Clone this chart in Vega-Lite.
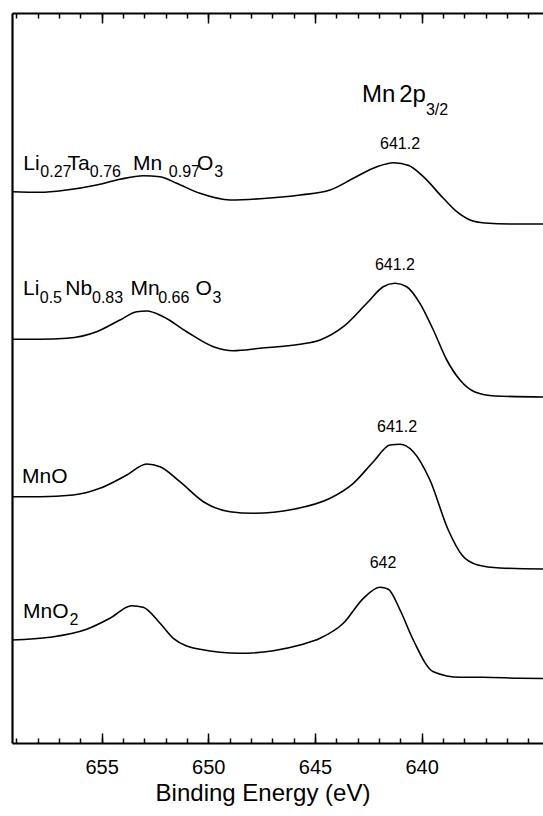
{
 "$schema": "https://vega.github.io/schema/vega-lite/v6.json",
 "width": 531, "height": 730,
 "autosize": {"type": "none"},
 "padding": {"left": 12, "top": 13, "right": 0, "bottom": 73},
 "background": "white",
 "config": {"view": {"stroke": null}, "font": "Liberation Sans",
  "axis": {"grid": false, "domainColor": "black", "tickColor": "black", "labelColor": "black", "titleColor": "black", "labelFont": "Liberation Sans", "titleFont": "Liberation Sans"},
  "text": {"font": "Liberation Sans", "color": "black"}},
 "datasets": {
  "curves": [
   {"sample":"Li0.27Ta0.76Mn0.97O3","E":659.2,"I":551.3},
   {"sample":"Li0.27Ta0.76Mn0.97O3","E":657.89,"I":550.7},
   {"sample":"Li0.27Ta0.76Mn0.97O3","E":656.64,"I":553},
   {"sample":"Li0.27Ta0.76Mn0.97O3","E":655.23,"I":558},
   {"sample":"Li0.27Ta0.76Mn0.97O3","E":654.14,"I":563.7},
   {"sample":"Li0.27Ta0.76Mn0.97O3","E":653.05,"I":567.3},
   {"sample":"Li0.27Ta0.76Mn0.97O3","E":652.26,"I":566.3},
   {"sample":"Li0.27Ta0.76Mn0.97O3","E":651.48,"I":559.7},
   {"sample":"Li0.27Ta0.76Mn0.97O3","E":650.39,"I":549.7},
   {"sample":"Li0.27Ta0.76Mn0.97O3","E":648.98,"I":543},
   {"sample":"Li0.27Ta0.76Mn0.97O3","E":647.26,"I":544.7},
   {"sample":"Li0.27Ta0.76Mn0.97O3","E":645.7,"I":548},
   {"sample":"Li0.27Ta0.76Mn0.97O3","E":644.29,"I":553},
   {"sample":"Li0.27Ta0.76Mn0.97O3","E":643.2,"I":564.7},
   {"sample":"Li0.27Ta0.76Mn0.97O3","E":642.1,"I":576.3},
   {"sample":"Li0.27Ta0.76Mn0.97O3","E":641.3,"I":580.3},
   {"sample":"Li0.27Ta0.76Mn0.97O3","E":640.6,"I":577.5},
   {"sample":"Li0.27Ta0.76Mn0.97O3","E":639.92,"I":566.3},
   {"sample":"Li0.27Ta0.76Mn0.97O3","E":638.98,"I":544.7},
   {"sample":"Li0.27Ta0.76Mn0.97O3","E":638.35,"I":531.3},
   {"sample":"Li0.27Ta0.76Mn0.97O3","E":637.73,"I":523},
   {"sample":"Li0.27Ta0.76Mn0.97O3","E":637.03,"I":520},
   {"sample":"Li0.27Ta0.76Mn0.97O3","E":635.86,"I":519},
   {"sample":"Li0.27Ta0.76Mn0.97O3","E":634.31,"I":519},
   {"sample":"Li0.5Nb0.83Mn0.66O3","E":659.2,"I":403.7},
   {"sample":"Li0.5Nb0.83Mn0.66O3","E":657.89,"I":403.7},
   {"sample":"Li0.5Nb0.83Mn0.66O3","E":656.64,"I":404.7},
   {"sample":"Li0.5Nb0.83Mn0.66O3","E":655.23,"I":411.3},
   {"sample":"Li0.5Nb0.83Mn0.66O3","E":654.14,"I":423},
   {"sample":"Li0.5Nb0.83Mn0.66O3","E":653.35,"I":431.3},
   {"sample":"Li0.5Nb0.83Mn0.66O3","E":652.89,"I":432},
   {"sample":"Li0.5Nb0.83Mn0.66O3","E":652.11,"I":426.3},
   {"sample":"Li0.5Nb0.83Mn0.66O3","E":651.01,"I":411.3},
   {"sample":"Li0.5Nb0.83Mn0.66O3","E":649.76,"I":396.3},
   {"sample":"Li0.5Nb0.83Mn0.66O3","E":648.83,"I":392.3},
   {"sample":"Li0.5Nb0.83Mn0.66O3","E":647.57,"I":394.7},
   {"sample":"Li0.5Nb0.83Mn0.66O3","E":645.7,"I":398.7},
   {"sample":"Li0.5Nb0.83Mn0.66O3","E":644.76,"I":403},
   {"sample":"Li0.5Nb0.83Mn0.66O3","E":643.67,"I":416.3},
   {"sample":"Li0.5Nb0.83Mn0.66O3","E":642.57,"I":439.7},
   {"sample":"Li0.5Nb0.83Mn0.66O3","E":641.8,"I":456.3},
   {"sample":"Li0.5Nb0.83Mn0.66O3","E":641.25,"I":459.7},
   {"sample":"Li0.5Nb0.83Mn0.66O3","E":640.7,"I":456.3},
   {"sample":"Li0.5Nb0.83Mn0.66O3","E":640.08,"I":439.7},
   {"sample":"Li0.5Nb0.83Mn0.66O3","E":639.45,"I":413},
   {"sample":"Li0.5Nb0.83Mn0.66O3","E":638.82,"I":383},
   {"sample":"Li0.5Nb0.83Mn0.66O3","E":638.2,"I":363},
   {"sample":"Li0.5Nb0.83Mn0.66O3","E":637.5,"I":351},
   {"sample":"Li0.5Nb0.83Mn0.66O3","E":636.56,"I":347},
   {"sample":"Li0.5Nb0.83Mn0.66O3","E":634.31,"I":346},
   {"sample":"MnO","E":659.2,"I":246.3},
   {"sample":"MnO","E":657.89,"I":246.3},
   {"sample":"MnO","E":656.33,"I":248},
   {"sample":"MnO","E":655.08,"I":254.7},
   {"sample":"MnO","E":653.82,"I":268},
   {"sample":"MnO","E":652.89,"I":279},
   {"sample":"MnO","E":652.26,"I":276.3},
   {"sample":"MnO","E":651.33,"I":261.3},
   {"sample":"MnO","E":650.23,"I":241.3},
   {"sample":"MnO","E":648.98,"I":231.3},
   {"sample":"MnO","E":647.89,"I":229.7},
   {"sample":"MnO","E":646.01,"I":233.7},
   {"sample":"MnO","E":644.29,"I":244.7},
   {"sample":"MnO","E":643.2,"I":259.7},
   {"sample":"MnO","E":642.26,"I":281.3},
   {"sample":"MnO","E":641.48,"I":298},
   {"sample":"MnO","E":641.01,"I":298.7},
   {"sample":"MnO","E":640.39,"I":291.3},
   {"sample":"MnO","E":639.61,"I":263},
   {"sample":"MnO","E":638.75,"I":213},
   {"sample":"MnO","E":638.11,"I":188},
   {"sample":"MnO","E":637.36,"I":178},
   {"sample":"MnO","E":636.33,"I":175},
   {"sample":"MnO","E":634.31,"I":174},
   {"sample":"MnO2","E":659.2,"I":103},
   {"sample":"MnO2","E":657.42,"I":105.7},
   {"sample":"MnO2","E":655.7,"I":113.7},
   {"sample":"MnO2","E":654.61,"I":124.7},
   {"sample":"MnO2","E":653.59,"I":137.3},
   {"sample":"MnO2","E":653.05,"I":135.7},
   {"sample":"MnO2","E":652.26,"I":119.7},
   {"sample":"MnO2","E":651.64,"I":104.7},
   {"sample":"MnO2","E":650.39,"I":93.7},
   {"sample":"MnO2","E":648.51,"I":89.7},
   {"sample":"MnO2","E":646.95,"I":92.3},
   {"sample":"MnO2","E":645.7,"I":98},
   {"sample":"MnO2","E":644.76,"I":104.7},
   {"sample":"MnO2","E":643.67,"I":119.7},
   {"sample":"MnO2","E":642.73,"I":144.7},
   {"sample":"MnO2","E":641.95,"I":155.7},
   {"sample":"MnO2","E":641.56,"I":153.7},
   {"sample":"MnO2","E":641.01,"I":133},
   {"sample":"MnO2","E":640.39,"I":103},
   {"sample":"MnO2","E":639.45,"I":71.3},
   {"sample":"MnO2","E":638.2,"I":65.7},
   {"sample":"MnO2","E":637.11,"I":65.7},
   {"sample":"MnO2","E":635.39,"I":64.7},
   {"sample":"MnO2","E":634.31,"I":64.5}
  ],
  "labels": [
   {"t":"Li","E":658.67,"I":573,"role":"main"},
   {"t":"0.27","E":657.87,"I":566,"role":"sub"},
   {"t":"Ta","E":656.6,"I":573,"role":"main"},
   {"t":"0.76","E":655.55,"I":566,"role":"sub"},
   {"t":"Mn","E":653.53,"I":573,"role":"main"},
   {"t":"0.97","E":651.85,"I":566,"role":"sub"},
   {"t":"O","E":650.53,"I":573,"role":"main"},
   {"t":"3","E":649.72,"I":566,"role":"sub"},
   {"t":"Li","E":658.68,"I":448,"role":"main"},
   {"t":"0.5","E":657.9,"I":440,"role":"sub"},
   {"t":"Nb","E":656.7,"I":448,"role":"main"},
   {"t":"0.83","E":655.45,"I":440,"role":"sub"},
   {"t":"Mn","E":653.65,"I":448,"role":"main"},
   {"t":"0.66","E":652.35,"I":440,"role":"sub"},
   {"t":"O","E":650.6,"I":448,"role":"main"},
   {"t":"3","E":649.8,"I":440,"role":"sub"},
   {"t":"MnO","E":658.73,"I":260,"role":"main"},
   {"t":"MnO","E":658.68,"I":125,"role":"main"},
   {"t":"2","E":656.5,"I":118,"role":"sub"},
   {"t":"Mn","E":642.79,"I":641,"role":"big"},
   {"t":"2p","E":641.05,"I":641,"role":"big"},
   {"t":"3/2","E":639.8,"I":628,"role":"bigsub"},
   {"t":"641.2","E":641.01,"I":594,"role":"peak"},
   {"t":"641.2","E":641.25,"I":473,"role":"peak"},
   {"t":"641.2","E":641.15,"I":311,"role":"peak"},
   {"t":"642","E":641.81,"I":175,"role":"peak"}
  ]
 },
 "layer": [
  {"data": {"name": "curves"},
   "mark": {"type": "line", "color": "black", "strokeWidth": 1.6, "interpolate": "monotone"},
   "encoding": {
    "x": {"field": "E", "type": "quantitative", "scale": {"domain": [634.31, 659.2], "reverse": true, "nice": false, "zero": false},
     "axis": {"orient": "bottom", "values": [635,636,637,638,639,640,641,642,643,644,645,646,647,648,649,650,651,652,653,654,655,656,657,658,659], "tickSize": -5, "tickWidth": 1.5, "labels": false, "domain": true, "domainWidth": 2, "title": null}},
    "y": {"field": "I", "type": "quantitative", "scale": {"domain": [0, 730], "nice": false, "zero": false},
     "axis": {"orient": "left", "ticks": false, "labels": false, "domain": true, "domainWidth": 2.2, "domainColor": "black", "title": null}},
    "detail": {"field": "sample", "type": "nominal"}
   }},
  {"data": {"name": "labels"}, "transform": [{"filter": "datum.role === 'peak'"}],
   "mark": {"type": "text", "fontSize": 16, "align": "center", "baseline": "alphabetic"},
   "encoding": {
    "x": {"field": "E", "type": "quantitative", "scale": {"domain": [634.31, 659.2], "reverse": true, "nice": false, "zero": false},
     "axis": {"orient": "bottom", "values": [640, 645, 650, 655], "tickSize": -10, "tickWidth": 1.5, "labels": true, "labelFontSize": 20, "labelPadding": 24, "labelBaseline": "top", "labelFlush": false, "domain": false,
      "title": "Binding Energy (eV)", "titleFontSize": 24, "titleFontWeight": "normal", "titleBaseline": "alphabetic", "titleY": 57, "titleX": 250.5, "titleAlign": "center"}},
    "y": {"field": "I", "type": "quantitative", "scale": {"domain": [0, 730], "nice": false, "zero": false}, "axis": null},
    "text": {"field": "t"}
   }},
  {"data": {"name": "labels"}, "transform": [{"filter": "datum.role === 'main'"}],
   "mark": {"type": "text", "fontSize": 21, "align": "left", "baseline": "alphabetic"},
   "encoding": {
    "x": {"field": "E", "type": "quantitative", "scale": {"domain": [634.31, 659.2], "reverse": true, "nice": false, "zero": false},
     "axis": {"orient": "top", "values": [635,636,637,638,639,640,641,642,643,644,645,646,647,648,649,650,651,652,653,654,655,656,657,658,659], "tickSize": -5, "tickWidth": 1.5, "labels": false, "domain": true, "domainWidth": 2, "title": null}},
    "y": {"field": "I", "type": "quantitative", "scale": {"domain": [0, 730], "nice": false, "zero": false}, "axis": null},
    "text": {"field": "t"}
   }},
  {"data": {"name": "labels"}, "transform": [{"filter": "datum.role === 'sub'"}],
   "mark": {"type": "text", "fontSize": 16, "align": "left", "baseline": "alphabetic"},
   "encoding": {
    "x": {"field": "E", "type": "quantitative", "scale": {"domain": [634.31, 659.2], "reverse": true, "nice": false, "zero": false},
     "axis": {"orient": "top", "values": [640, 645, 650, 655], "tickSize": -10, "tickWidth": 1.5, "labels": false, "domain": false, "title": null}},
    "y": {"field": "I", "type": "quantitative", "scale": {"domain": [0, 730], "nice": false, "zero": false}, "axis": null},
    "text": {"field": "t"}
   }},
  {"data": {"name": "labels"}, "transform": [{"filter": "datum.role === 'big'"}],
   "mark": {"type": "text", "fontSize": 24, "align": "left", "baseline": "alphabetic"},
   "encoding": {
    "x": {"field": "E", "type": "quantitative", "scale": {"domain": [634.31, 659.2], "reverse": true, "nice": false, "zero": false}, "axis": null},
    "y": {"field": "I", "type": "quantitative", "scale": {"domain": [0, 730], "nice": false, "zero": false}, "axis": null},
    "text": {"field": "t"}
   }},
  {"data": {"name": "labels"}, "transform": [{"filter": "datum.role === 'bigsub'"}],
   "mark": {"type": "text", "fontSize": 16, "align": "left", "baseline": "alphabetic"},
   "encoding": {
    "x": {"field": "E", "type": "quantitative", "scale": {"domain": [634.31, 659.2], "reverse": true, "nice": false, "zero": false}, "axis": null},
    "y": {"field": "I", "type": "quantitative", "scale": {"domain": [0, 730], "nice": false, "zero": false}, "axis": null},
    "text": {"field": "t"}
   }}
 ],
 "resolve": {"axis": {"x": "independent", "y": "independent"}}
}
